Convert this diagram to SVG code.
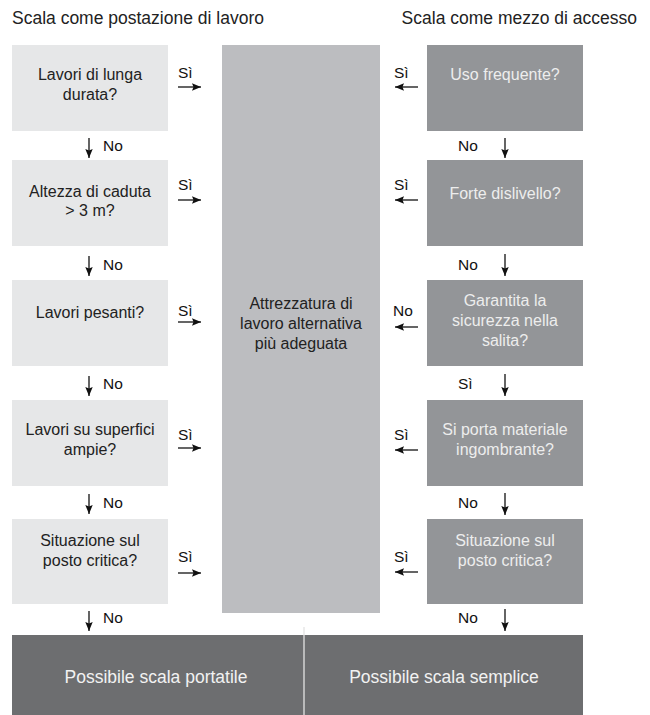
<svg xmlns="http://www.w3.org/2000/svg" width="650" height="715" viewBox="0 0 650 715">
<defs>
<marker id="ah" viewBox="0 0 9 8" refX="9" refY="4" markerWidth="9" markerHeight="8" markerUnits="userSpaceOnUse" orient="auto">
<path d="M0,0.3 L9,4 L0,7.7 L1.5,4 Z" fill="#111"/>
</marker>
<style>
text{font-family:"Liberation Sans",Arial,Helvetica,sans-serif;}
.title{font-size:17.5px;fill:#222;}
.t{font-size:16px;fill:#222;text-anchor:middle;}
.tl{font-size:16px;fill:#ededed;text-anchor:middle;}
.tb{font-size:17.5px;fill:#f2f2f2;text-anchor:middle;}
.lab{font-size:15.5px;fill:#111;}
.a{stroke:#111;stroke-width:1.3;fill:none;marker-end:url(#ah);}
.bl{fill:#e6e7e8;}
.bc{fill:#bcbdc0;}
.br{fill:#939598;}
.bb{fill:#6d6e70;}
</style>
</defs>
<rect width="650" height="715" fill="#fff"/>
<text class="title" x="12" y="24">Scala come postazione di lavoro</text>
<text class="title" x="637" y="24" text-anchor="end">Scala come mezzo di accesso</text>

<g id="l1"><rect class="bl" x="12" y="45" width="156" height="86"/><text class="t" x="90" y="80">Lavori di lunga</text><text class="t" x="90" y="100">durata?</text></g>
<g id="l2"><rect class="bl" x="12" y="160" width="156" height="86"/><text class="t" x="90" y="197">Altezza di caduta</text><text class="t" x="90" y="216">&gt; 3 m?</text></g>
<g id="l3"><rect class="bl" x="12" y="280" width="156" height="86"/><text class="t" x="90" y="318">Lavori pesanti?</text></g>
<g id="l4"><rect class="bl" x="12" y="400" width="156" height="86"/><text class="t" x="90" y="435">Lavori su superfici</text><text class="t" x="90" y="455">ampie?</text></g>
<g id="l5"><rect class="bl" x="12" y="519" width="156" height="85"/><text class="t" x="90" y="546">Situazione sul</text><text class="t" x="90" y="566">posto critica?</text></g>

<g id="center"><rect class="bc" x="222" y="45" width="158" height="568"/><text class="t" x="301" y="309">Attrezzatura di</text><text class="t" x="301" y="329">lavoro alternativa</text><text class="t" x="301" y="349">più adeguata</text></g>

<g id="r1"><rect class="br" x="427" y="45" width="156" height="86"/><text class="tl" x="505" y="80">Uso frequente?</text></g>
<g id="r2"><rect class="br" x="427" y="160" width="156" height="86"/><text class="tl" x="505" y="199">Forte dislivello?</text></g>
<g id="r3"><rect class="br" x="427" y="280" width="156" height="86"/><text class="tl" x="505" y="306">Garantita la</text><text class="tl" x="505" y="326">sicurezza nella</text><text class="tl" x="505" y="346">salita?</text></g>
<g id="r4"><rect class="br" x="427" y="400" width="156" height="86"/><text class="tl" x="505" y="435">Si porta materiale</text><text class="tl" x="505" y="455">ingombrante?</text></g>
<g id="r5"><rect class="br" x="427" y="519" width="156" height="85"/><text class="tl" x="505" y="546">Situazione sul</text><text class="tl" x="505" y="566">posto critica?</text></g>

<g id="bottom-left"><rect class="bb" x="12" y="635" width="292" height="80"/><text class="tb" x="156" y="683">Possibile scala portatile</text></g>
<g id="bottom-right"><rect class="bb" x="304" y="635" width="279" height="80"/><text class="tb" x="444" y="683">Possibile scala semplice</text></g>
<line x1="304" y1="627" x2="304" y2="715" stroke="#e4e4e4" stroke-width="1.3"/>

<g id="connectors">
<path class="a" d="M178,87 H201"/>
<path class="a" d="M178,200 H201"/>
<path class="a" d="M178,322 H201"/>
<path class="a" d="M178,448 H201"/>
<path class="a" d="M178,573 H201"/>
<path class="a" d="M418,87 H395"/>
<path class="a" d="M418,200 H395"/>
<path class="a" d="M418,327 H395"/>
<path class="a" d="M418,450 H395"/>
<path class="a" d="M418,572 H395"/>
<path class="a" d="M89,138 V158"/>
<path class="a" d="M89,256 V276"/>
<path class="a" d="M89,376 V396"/>
<path class="a" d="M89,494 V514"/>
<path class="a" d="M89,611 V631"/>
<path class="a" d="M505,138 V158"/>
<path class="a" d="M505,254 V276"/>
<path class="a" d="M505,374 V396"/>
<path class="a" d="M505,493 V515"/>
<path class="a" d="M505,609 V631"/>
<text class="lab" x="178" y="78">Sì</text>
<text class="lab" x="178" y="190">Sì</text>
<text class="lab" x="178" y="316">Sì</text>
<text class="lab" x="178" y="440">Sì</text>
<text class="lab" x="178" y="562">Sì</text>
<text class="lab" x="394" y="78">Sì</text>
<text class="lab" x="394" y="190">Sì</text>
<text class="lab" x="393" y="316">No</text>
<text class="lab" x="394" y="440">Sì</text>
<text class="lab" x="394" y="562">Sì</text>
<text class="lab" x="103" y="151">No</text>
<text class="lab" x="103" y="270">No</text>
<text class="lab" x="103" y="389">No</text>
<text class="lab" x="103" y="508">No</text>
<text class="lab" x="103" y="623">No</text>
<text class="lab" x="458" y="151">No</text>
<text class="lab" x="458" y="270">No</text>
<text class="lab" x="458" y="389">Sì</text>
<text class="lab" x="458" y="508">No</text>
<text class="lab" x="458" y="623">No</text>
</g>
</svg>
